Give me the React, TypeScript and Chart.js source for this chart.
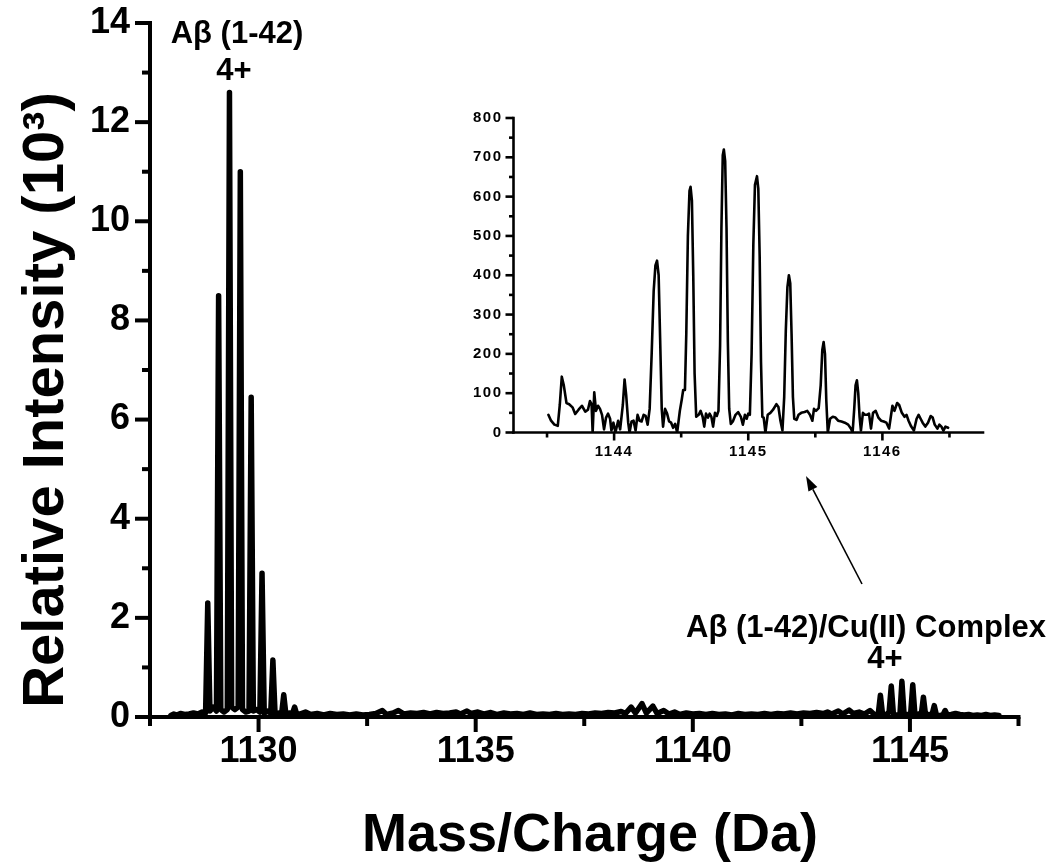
import { useEffect, useRef } from "react";
import { Chart, registerables } from "chart.js";

Chart.register(...registerables);

const FONT = '"Liberation Sans", Arial, Helvetica, sans-serif';

// ---------- main spectrum data (Mass/Charge in Da, intensity in 10^3) ----------
const mainXLabels = [1130, 1135, 1140, 1145];
const mainYLabels = [0, 2, 4, 6, 8, 10, 12, 14];

const mainBaselineLeft: [number, number][] = [
  [1127.98, 0.03], [1128.05, 0.06], [1128.12, 0.04], [1128.2, 0.07], [1128.3, 0.05],
  [1128.4, 0.06], [1128.5, 0.08], [1128.6, 0.06], [1128.7, 0.1],
];

const mainFreePeptide: [number, number][] = [
  [1128.78, 0.08], [1128.83, 2.3], [1128.88, 0.12], [1128.955, 0.2],
  [1129.03, 0.12], [1129.08, 8.5], [1129.13, 0.15], [1129.205, 0.1],
  [1129.28, 0.15], [1129.33, 12.6], [1129.38, 0.2], [1129.455, 0.15],
  [1129.53, 0.2], [1129.58, 11.0], [1129.63, 0.15], [1129.705, 0.1],
  [1129.78, 0.12], [1129.83, 6.45], [1129.88, 0.12], [1129.955, 0.15],
  [1130.03, 0.1], [1130.08, 2.9], [1130.13, 0.08], [1130.205, 0.12],
  [1130.28, 0.08], [1130.33, 1.15], [1130.38, 0.06], [1130.455, 0.08],
  [1130.53, 0.06], [1130.58, 0.45], [1130.63, 0.05], [1130.705, 0.08],
  [1130.78, 0.07], [1130.83, 0.2], [1130.88, 0.05],
];

const mainBaselineMiddle: [number, number][] = [
  [1130.95, 0.06], [1131.08, 0.1], [1131.2, 0.05], [1131.35, 0.07], [1131.5, 0.04],
  [1131.65, 0.07], [1131.8, 0.05], [1131.95, 0.06], [1132.1, 0.04], [1132.25, 0.06],
  [1132.4, 0.04], [1132.55, 0.05], [1132.7, 0.07], [1132.85, 0.13], [1132.95, 0.05],
  [1133.1, 0.08], [1133.22, 0.13], [1133.35, 0.06], [1133.5, 0.08], [1133.65, 0.07],
  [1133.8, 0.09], [1133.95, 0.06], [1134.1, 0.09], [1134.25, 0.07], [1134.4, 0.08],
  [1134.55, 0.1], [1134.65, 0.06], [1134.8, 0.12], [1134.9, 0.07], [1135.05, 0.1],
  [1135.2, 0.06], [1135.35, 0.09], [1135.5, 0.05], [1135.65, 0.08], [1135.8, 0.06],
  [1135.95, 0.07], [1136.1, 0.05], [1136.25, 0.08], [1136.4, 0.05], [1136.55, 0.06],
  [1136.7, 0.05], [1136.85, 0.07], [1137.0, 0.05], [1137.15, 0.06], [1137.3, 0.05],
  [1137.45, 0.07], [1137.6, 0.06], [1137.75, 0.08], [1137.9, 0.07], [1138.05, 0.09],
  [1138.2, 0.08], [1138.35, 0.11], [1138.45, 0.07], [1138.58, 0.2], [1138.68, 0.08],
  [1138.83, 0.27], [1138.93, 0.08], [1139.08, 0.22], [1139.18, 0.07], [1139.33, 0.13],
  [1139.45, 0.06], [1139.58, 0.1], [1139.7, 0.05], [1139.85, 0.08], [1140.0, 0.06],
  [1140.15, 0.07], [1140.3, 0.05], [1140.45, 0.07], [1140.6, 0.05], [1140.75, 0.06],
  [1140.9, 0.04], [1141.05, 0.07], [1141.2, 0.05], [1141.35, 0.06], [1141.5, 0.05],
  [1141.65, 0.07], [1141.8, 0.05], [1141.95, 0.07], [1142.1, 0.06], [1142.25, 0.08],
  [1142.4, 0.06], [1142.55, 0.08], [1142.7, 0.07], [1142.85, 0.09], [1143.0, 0.07],
  [1143.1, 0.1], [1143.2, 0.06], [1143.35, 0.12], [1143.45, 0.06], [1143.6, 0.14],
  [1143.7, 0.07], [1143.83, 0.1], [1143.95, 0.06], [1144.08, 0.13], [1144.18, 0.05],
];

const mainCuComplex: [number, number][] = [
  [1144.27, 0.06], [1144.32, 0.44], [1144.37, 0.05], [1144.445, 0.04],
  [1144.52, 0.1], [1144.57, 0.625], [1144.62, 0.05], [1144.695, 0.04],
  [1144.77, 0.05], [1144.815, 0.72], [1144.865, 0.05], [1144.94, 0.05],
  [1145.015, 0.05], [1145.065, 0.65], [1145.115, 0.04], [1145.19, 0.06],
  [1145.26, 0.05], [1145.31, 0.4], [1145.36, 0.04], [1145.44, 0.05],
  [1145.51, 0.05], [1145.56, 0.23], [1145.61, 0.04], [1145.69, 0.03],
  [1145.76, 0.04], [1145.81, 0.13], [1145.86, 0.04],
];

const mainBaselineRight: [number, number][] = [
  [1145.95, 0.05], [1146.05, 0.07], [1146.15, 0.05], [1146.25, 0.04], [1146.35, 0.05],
  [1146.45, 0.03], [1146.55, 0.04], [1146.65, 0.03], [1146.75, 0.05], [1146.85, 0.03],
  [1146.95, 0.04], [1147.05, 0.03],
];

// ---------- inset data (zoom on the Cu(II) complex, raw counts) ----------
const insetXLabels = [1144, 1145, 1146];
const insetYLabels = [0, 100, 200, 300, 400, 500, 600, 700, 800];

const insetSpectrum: [number, number][] = [
  [1143.51, 45], [1143.53, 30], [1143.555, 20], [1143.58, 17], [1143.595, 70],
  [1143.61, 142], [1143.625, 120], [1143.645, 75], [1143.665, 72], [1143.69, 64],
  [1143.71, 47], [1143.735, 58], [1143.76, 68], [1143.785, 53], [1143.805, 58],
  [1143.82, 80], [1143.832, 72], [1143.84, 0], [1143.852, 102], [1143.865, 55],
  [1143.88, 68], [1143.895, 60], [1143.91, 45], [1143.925, 8], [1143.94, 38],
  [1143.955, 48], [1143.97, 35], [1143.98, 5], [1143.995, 25], [1144.01, 0],
  [1144.03, 30], [1144.045, 8], [1144.065, 70], [1144.078, 135], [1144.09, 95],
  [1144.105, 25], [1144.115, 0], [1144.13, 28], [1144.145, 30], [1144.16, 5],
  [1144.175, 45], [1144.19, 30], [1144.205, 28], [1144.22, 45], [1144.235, 42],
  [1144.25, 20], [1144.265, 60], [1144.28, 200], [1144.295, 360], [1144.308, 425],
  [1144.32, 437], [1144.332, 400], [1144.343, 240], [1144.355, 60], [1144.365, 15],
  [1144.38, 60], [1144.395, 48], [1144.41, 28], [1144.425, 25], [1144.44, 12],
  [1144.455, 22], [1144.47, 0], [1144.49, 55], [1144.505, 85], [1144.515, 108],
  [1144.528, 108], [1144.538, 250], [1144.55, 500], [1144.562, 615], [1144.57, 625],
  [1144.58, 590], [1144.59, 400], [1144.6, 150], [1144.612, 40], [1144.63, 45],
  [1144.645, 55], [1144.66, 40], [1144.672, 15], [1144.685, 48], [1144.7, 38],
  [1144.712, 48], [1144.725, 40], [1144.738, 15], [1144.752, 50], [1144.765, 42],
  [1144.778, 55], [1144.79, 220], [1144.8, 520], [1144.81, 705], [1144.818, 720],
  [1144.828, 690], [1144.838, 520], [1144.848, 230], [1144.858, 60], [1144.87, 22],
  [1144.885, 28], [1144.905, 45], [1144.925, 52], [1144.945, 40], [1144.96, 20],
  [1144.975, 45], [1144.988, 35], [1145.0, 48], [1145.012, 45], [1145.025, 200],
  [1145.038, 480], [1145.05, 630], [1145.065, 652], [1145.075, 620], [1145.085, 450],
  [1145.095, 180], [1145.105, 40], [1145.115, 38], [1145.128, 0], [1145.145, 45],
  [1145.165, 50], [1145.185, 58], [1145.21, 72], [1145.225, 65], [1145.24, 30],
  [1145.255, 5], [1145.268, 90], [1145.28, 260], [1145.292, 370], [1145.303, 400],
  [1145.313, 380], [1145.323, 250], [1145.333, 90], [1145.343, 35], [1145.36, 32],
  [1145.375, 45], [1145.395, 50], [1145.42, 52], [1145.44, 55], [1145.46, 45],
  [1145.478, 30], [1145.49, 60], [1145.505, 55], [1145.525, 62], [1145.54, 120],
  [1145.552, 210], [1145.562, 230], [1145.572, 200], [1145.582, 80], [1145.593, 0],
  [1145.61, 35], [1145.63, 40], [1145.65, 38], [1145.67, 30], [1145.695, 28],
  [1145.72, 25], [1145.745, 20], [1145.765, 10], [1145.778, 0], [1145.79, 60],
  [1145.8, 120], [1145.81, 133], [1145.82, 100], [1145.83, 40], [1145.84, 5],
  [1145.855, 50], [1145.87, 45], [1145.885, 45], [1145.9, 48], [1145.915, 10],
  [1145.93, 50], [1145.95, 55], [1145.97, 38], [1145.99, 30], [1146.01, 28],
  [1146.03, 25], [1146.05, 10], [1146.065, 45], [1146.075, 68], [1146.09, 55],
  [1146.11, 75], [1146.125, 70], [1146.145, 50], [1146.165, 40], [1146.18, 45],
  [1146.195, 30], [1146.215, 15], [1146.235, 5], [1146.255, 35], [1146.27, 45],
  [1146.285, 35], [1146.3, 25], [1146.32, 15], [1146.34, 25], [1146.36, 42],
  [1146.375, 38], [1146.39, 20], [1146.41, 10], [1146.425, 20], [1146.44, 15],
  [1146.455, 5], [1146.47, 15], [1146.49, 12],
];

const mainTitleX = "Mass/Charge (Da)";
const mainTitleY = "Relative Intensity (10\u00B3)";
const labelFree = "A\u03B2 (1-42)";
const labelCharge = "4+";
const labelComplex = "A\u03B2 (1-42)/Cu(II) Complex";

const toXY = (pairs: [number, number][]) => pairs.map(([x, y]) => ({ x, y }));

function line(ctx: CanvasRenderingContext2D, x1: number, y1: number, x2: number, y2: number) {
  ctx.beginPath();
  ctx.moveTo(x1, y1);
  ctx.lineTo(x2, y2);
  ctx.stroke();
}

function stepTicks(min: number, max: number, step: number) {
  const out: { value: number }[] = [];
  const n = Math.round((max - min) / step);
  for (let i = 0; i <= n; i++) out.push({ value: Math.round((min + i * step) * 1000) / 1000 });
  return out;
}

export default function App() {
  const mainRef = useRef<HTMLCanvasElement | null>(null);
  const insetRef = useRef<HTMLCanvasElement | null>(null);

  useEffect(() => {
    document.body.style.margin = "0";
    const mainCanvas = mainRef.current!;
    const insetCanvas = insetRef.current!;

    const mainData = [
      ...mainBaselineLeft,
      ...mainFreePeptide,
      ...mainBaselineMiddle,
      ...mainCuComplex,
      ...mainBaselineRight,
    ];

    const mainDecor = {
      id: "mainDecor",
      afterDraw(chart: any) {
        const ctx: CanvasRenderingContext2D = chart.ctx;
        const { left, right, top, bottom } = chart.chartArea;
        const xs = chart.scales.x;
        const ys = chart.scales.y;
        ctx.save();
        ctx.strokeStyle = "#000";
        ctx.fillStyle = "#000";
        ctx.lineWidth = 4;
        ctx.lineCap = "butt";
        for (let v = 0; v <= 14; v += 1) {
          const py = ys.getPixelForValue(v);
          const len = mainYLabels.includes(v) ? 15 : 8;
          line(ctx, left - len, py, left, py);
        }
        for (const t of stepTicks(1127.5, 1147.5, 2.5)) {
          const px = xs.getPixelForValue(t.value);
          const len = mainXLabels.includes(t.value) ? 15 : 9;
          line(ctx, px, bottom, px, bottom + len);
        }
        ctx.lineCap = "square";
        line(ctx, left, top, left, bottom);
        line(ctx, left, bottom, right, bottom);

        ctx.textAlign = "center";
        ctx.textBaseline = "alphabetic";
        ctx.font = `bold 54px ${FONT}`;
        ctx.fillText(mainTitleX, 590, 851);
        ctx.save();
        ctx.translate(63, 400);
        ctx.rotate(-Math.PI / 2);
        ctx.font = `bold 58px ${FONT}`;
        ctx.fillText(mainTitleY, 0, 0);
        ctx.restore();

        ctx.font = `bold 31px ${FONT}`;
        ctx.fillText(labelFree, 237, 43);
        ctx.fillText(labelCharge, 234, 80);
        ctx.fillText(labelComplex, 866, 637);
        ctx.fillText(labelCharge, 885, 668);

        const x1 = 862, y1 = 584, x2 = 806, y2 = 476;
        ctx.lineWidth = 1.6;
        ctx.lineCap = "butt";
        const ang = Math.atan2(y2 - y1, x2 - x1);
        const hl = 15, hw = 5;
        const bx = x2 - hl * Math.cos(ang);
        const by = y2 - hl * Math.sin(ang);
        line(ctx, x1, y1, bx, by);
        ctx.beginPath();
        ctx.moveTo(x2, y2);
        ctx.lineTo(bx + hw * Math.sin(ang), by - hw * Math.cos(ang));
        ctx.lineTo(bx - hw * Math.sin(ang), by + hw * Math.cos(ang));
        ctx.closePath();
        ctx.fill();
        ctx.restore();
      },
    };

    const mainChart = new Chart(mainCanvas, {
      type: "line",
      data: {
        datasets: [
          {
            data: toXY(mainData),
            borderColor: "#000",
            borderWidth: 5.5,
            pointRadius: 0,
            tension: 0,
            fill: false,
            borderJoinStyle: "round",
            borderCapStyle: "round",
          } as any,
        ],
      },
      options: {
        animation: false,
        responsive: false,
        devicePixelRatio: 1,
        events: [],
        layout: { padding: { top: 18, right: 31.5, bottom: 0, left: 0 } },
        plugins: { legend: { display: false }, tooltip: { enabled: false } },
        scales: {
          x: {
            type: "linear",
            min: 1127.5,
            max: 1147.5,
            afterBuildTicks: (s: any) => {
              s.ticks = stepTicks(1127.5, 1147.5, 2.5);
            },
            afterFit: (s: any) => {
              s.height = 145;
            },
            grid: { display: true, drawOnChartArea: false, drawTicks: true, tickLength: 15, color: "rgba(0,0,0,0)" },
            border: { display: false },
            ticks: {
              autoSkip: false,
              maxRotation: 0,
              padding: 2,
              color: "#000",
              font: { family: FONT, size: 36, weight: "bold", lineHeight: 1 },
              callback: (v: any) => (mainXLabels.includes(Number(v)) ? String(v) : ""),
            },
          },
          y: {
            type: "linear",
            min: 0,
            max: 14,
            afterFit: (s: any) => {
              s.width = 150;
            },
            grid: { display: true, drawOnChartArea: false, drawTicks: true, tickLength: 15, color: "rgba(0,0,0,0)" },
            border: { display: false },
            ticks: {
              stepSize: 2,
              padding: 5,
              color: "#000",
              font: { family: FONT, size: 36, weight: "bold", lineHeight: 1 },
              callback: (v: any) => (mainYLabels.includes(Number(v)) ? String(v) : ""),
            },
          },
        },
      },
      plugins: [mainDecor],
    } as any);

    const insetDecor = {
      id: "insetDecor",
      beforeUpdate(chart: any) {
        (chart.ctx as any).letterSpacing = "1.5px";
      },
      beforeDraw(chart: any) {
        (chart.ctx as any).letterSpacing = "1.5px";
      },
      afterDraw(chart: any) {
        const ctx: CanvasRenderingContext2D = chart.ctx;
        const { left, right, top, bottom } = chart.chartArea;
        const xs = chart.scales.x;
        const ys = chart.scales.y;
        ctx.save();
        ctx.strokeStyle = "#000";
        ctx.lineWidth = 2.6;
        ctx.lineCap = "butt";
        for (const t of stepTicks(0, 800, 50)) {
          const py = ys.getPixelForValue(t.value);
          const len = insetYLabels.includes(t.value) ? 8 : 4.5;
          line(ctx, left - len, py, left, py);
        }
        for (const t of stepTicks(1143.5, 1146.5, 0.5)) {
          const px = xs.getPixelForValue(t.value);
          const len = insetXLabels.includes(t.value) ? 8 : 5;
          line(ctx, px, bottom, px, bottom + len);
        }
        ctx.lineCap = "square";
        line(ctx, left, top, left, bottom);
        line(ctx, left, bottom, right, bottom);
        ctx.restore();
      },
    };

    const insetChart = new Chart(insetCanvas, {
      type: "line",
      data: {
        datasets: [
          {
            data: toXY(insetSpectrum),
            borderColor: "#000",
            borderWidth: 2.6,
            pointRadius: 0,
            tension: 0,
            fill: false,
            borderJoinStyle: "round",
            borderCapStyle: "round",
          } as any,
        ],
      },
      options: {
        animation: false,
        responsive: false,
        devicePixelRatio: 1,
        events: [],
        layout: { padding: { top: 23, right: 32, bottom: 0, left: 0 } },
        plugins: { legend: { display: false }, tooltip: { enabled: false } },
        scales: {
          x: {
            type: "linear",
            min: 1143.25,
            max: 1146.75,
            afterBuildTicks: (s: any) => {
              s.ticks = stepTicks(1143.5, 1146.5, 0.5);
            },
            afterFit: (s: any) => {
              s.height = 42.5;
            },
            grid: { display: true, drawOnChartArea: false, drawTicks: true, tickLength: 8, color: "rgba(0,0,0,0)" },
            border: { display: false },
            ticks: {
              autoSkip: false,
              maxRotation: 0,
              padding: 4,
              color: "#000",
              font: { family: FONT, size: 15, weight: "bold", lineHeight: 1 },
              callback: (v: any) => (insetXLabels.includes(Number(v)) ? String(v) : ""),
            },
          },
          y: {
            type: "linear",
            min: 0,
            max: 800,
            afterFit: (s: any) => {
              s.width = 58.5;
            },
            grid: { display: true, drawOnChartArea: false, drawTicks: true, tickLength: 8, color: "rgba(0,0,0,0)" },
            border: { display: false },
            ticks: {
              stepSize: 100,
              padding: 3,
              color: "#000",
              font: { family: FONT, size: 15, weight: "bold", lineHeight: 1 },
              callback: (v: any) => (insetYLabels.includes(Number(v)) ? String(v) : ""),
            },
          },
        },
      },
      plugins: [insetDecor],
    } as any);

    return () => {
      mainChart.destroy();
      insetChart.destroy();
    };
  }, []);

  return (
    <div style={{ position: "relative", width: 1050, height: 862, background: "#fff", overflow: "hidden" }}>
      <canvas
        ref={mainRef}
        width={1050}
        height={862}
        style={{ position: "absolute", left: 0, top: 0, width: 1050, height: 862 }}
      />
      <canvas
        ref={insetRef}
        width={560}
        height={380}
        style={{ position: "absolute", left: 455, top: 95, width: 560, height: 380 }}
      />
    </div>
  );
}
